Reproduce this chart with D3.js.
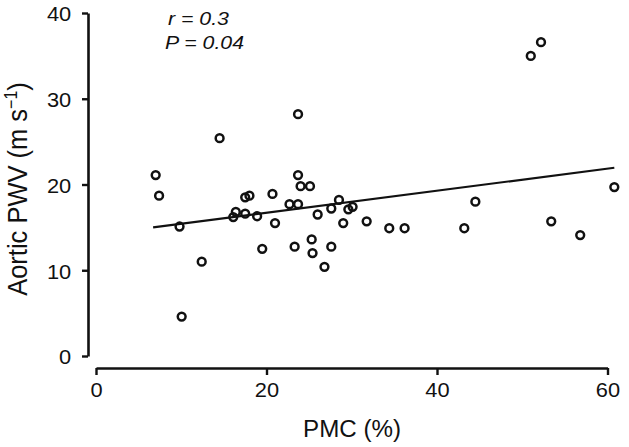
<!DOCTYPE html>
<html>
<head>
<meta charset="utf-8">
<script src="https://cdn.jsdelivr.net/npm/d3@7"></script>
<style>
  body { margin: 0; background: #fff; }
  svg { display: block; font-family: "Liberation Sans", Arial, Helvetica, sans-serif; }
</style>
</head>
<body>
<div id="chart"></div>
<script>
// PMC (%) values
const pmc = [23.7, 14.5, 7.0, 7.4, 23.7, 24.0, 25.1, 18.0, 17.5, 20.7,
  9.8, 16.1, 16.4, 17.5, 18.9, 21.0, 22.7, 23.7, 26.0, 27.6,
  28.5, 29.6, 30.1, 29.0, 12.4, 19.5, 23.3, 25.3, 25.4, 27.6,
  26.8, 10.05, 52.2, 51.0, 60.8, 44.5, 31.75, 34.4, 36.2, 43.2,
  53.4, 56.8];
// Aortic PWV (m/s) values
const pwv = [28.2, 25.4, 21.1, 18.7, 21.1, 19.8, 19.8, 18.7, 18.5, 18.9,
  15.1, 16.2, 16.8, 16.6, 16.3, 15.5, 17.7, 17.7, 16.5, 17.2,
  18.2, 17.1, 17.4, 15.5, 11.0, 12.5, 12.75, 13.6, 12.0, 12.75,
  10.4, 4.6, 36.6, 35.0, 19.7, 18.0, 15.7, 14.9, 14.9, 14.9,
  15.7, 14.1];
// regression line ends
const fitX = [6.7, 60.8];
const fitY = [15.0, 21.95];
const xTicks = [0, 20, 40, 60];
const yTicks = [0, 10, 20, 30, 40];
const stats = ['r = 0.3', 'P = 0.04'];

const width = 629, height = 447;

const x = d3.scaleLinear().domain([0, 60]).range([96, 607.5]);
const y = d3.scaleLinear().domain([0, 40]).range([356, 13]);

const svg = d3.select('#chart')
  .append('svg')
  .attr('width', width)
  .attr('height', height);

// y axis (offset to the left of the x range)
const yAxis = svg.append('g')
  .attr('transform', 'translate(88,0)')
  .call(d3.axisLeft(y).tickValues(yTicks).tickSize(6).tickSizeOuter(0).tickPadding(9));

// x axis (offset below the y range)
const xAxis = svg.append('g')
  .attr('transform', 'translate(0,368)')
  .call(d3.axisBottom(x).tickValues(xTicks).tickSize(7).tickSizeOuter(0).tickPadding(7));

[yAxis, xAxis].forEach(ax => {
  ax.select('.domain').attr('stroke', '#111').attr('stroke-width', 2.6);
  ax.selectAll('.tick line').attr('stroke', '#111').attr('stroke-width', 2.4);
  ax.selectAll('.tick text')
    .attr('fill', '#111')
    .style('font-size', '19.5px')
    .style('font-family', '"Liberation Sans", Arial, sans-serif');
});
yAxis.selectAll('.tick text').attr('transform', 'scale(1.12,1)').attr('dy', '0.4em');
xAxis.selectAll('.tick text').attr('transform', 'scale(1.12,1)').attr('dy', '0.75em');

// regression line
svg.append('line')
  .attr('x1', x(fitX[0]))
  .attr('y1', y(fitY[0]))
  .attr('x2', x(fitX[1]))
  .attr('y2', y(fitY[1]))
  .attr('stroke', '#111')
  .attr('stroke-width', 2.2);

// points
svg.append('g')
  .selectAll('circle')
  .data(pmc.map((d, i) => ({ x: d, y: pwv[i] })))
  .join('circle')
  .attr('cx', d => x(d.x))
  .attr('cy', d => y(d.y))
  .attr('r', 3.9)
  .attr('fill', 'none')
  .attr('stroke', '#111')
  .attr('stroke-width', 2.5);

// stats annotation
svg.append('text')
  .attr('transform', 'translate(168,25) scale(1.15,1)')
  .attr('fill', '#111')
  .style('font-size', '18.5px')
  .style('font-style', 'italic')
  .text(stats[0]);

svg.append('text')
  .attr('transform', 'translate(165,48.5) scale(1.15,1)')
  .attr('fill', '#111')
  .style('font-size', '18.5px')
  .style('font-style', 'italic')
  .text(stats[1]);

// axis titles
svg.append('text')
  .attr('transform', 'translate(352,437) scale(1.05,1)')
  .attr('text-anchor', 'middle')
  .attr('fill', '#111')
  .style('font-size', '23px')
  .text('PMC (%)');

const yTitle = svg.append('text')
  .attr('transform', 'translate(27,189) rotate(-90) scale(1,1.12)')
  .attr('text-anchor', 'middle')
  .attr('fill', '#111')
  .style('font-size', '25.5px');
yTitle.append('tspan').text('Aortic PWV (m s');
yTitle.append('tspan').attr('dy', -9).style('font-size', '16px').text('\u22121');
yTitle.append('tspan').attr('dy', 9).text(')');
</script>
</body>
</html>
